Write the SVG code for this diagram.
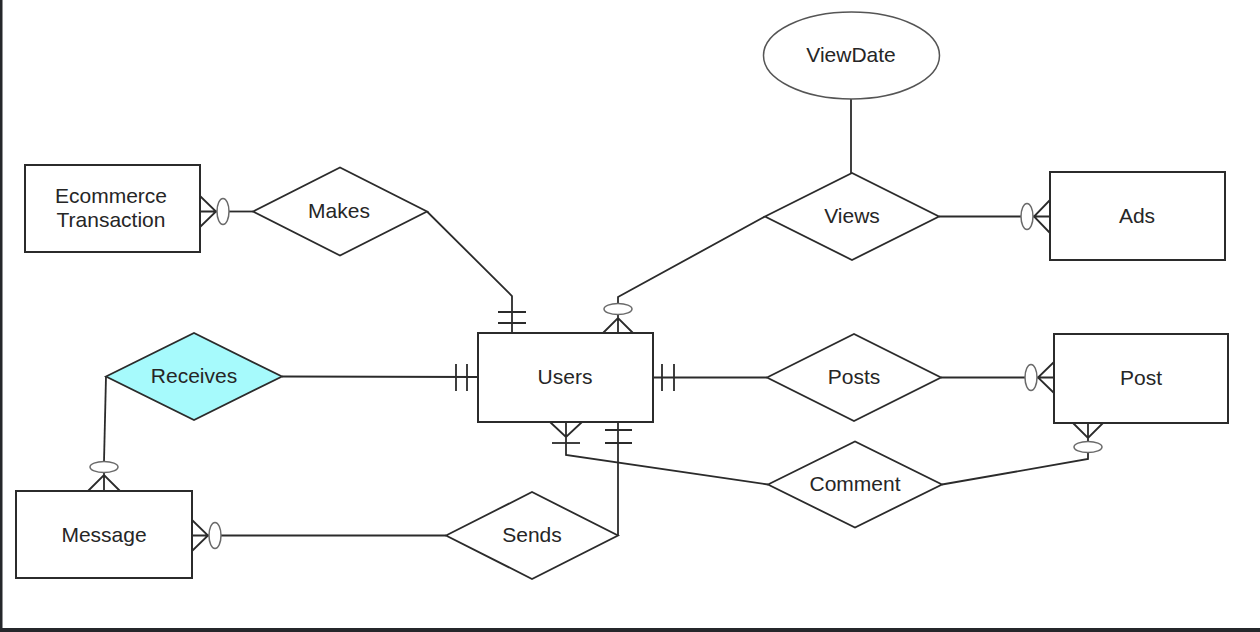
<svg xmlns="http://www.w3.org/2000/svg" width="1260" height="632" viewBox="0 0 1260 632">
<style>
.ent{fill:#fff;stroke:#2b2b2b;stroke-width:2}
.rel{fill:#fff;stroke:#2b2b2b;stroke-width:1.8}
.attr{fill:#fff;stroke:#555;stroke-width:1.5}
.ln{fill:none;stroke:#2b2b2b;stroke-width:1.8}
.opt{fill:#fff;stroke:#6a6a6a;stroke-width:1.5}
.t{font-family:"Liberation Sans",Arial,sans-serif;font-size:21px;fill:#262626;text-anchor:middle;dominant-baseline:central}
</style>
<rect x="0" y="0" width="1260" height="632" fill="#fff"/>
<rect x="0" y="0" width="2.5" height="632" fill="#25272b"/>
<rect x="0" y="628" width="1260" height="4" fill="#25272b"/>

<g id="connectors">
  <!-- Makes - Users -->
  <path class="ln" d="M427,211.5 L512,296 L512,333"/>
  <path class="ln" d="M498,312 L526,312 M498,323 L526,323"/>
  <!-- Makes - Ecommerce -->
  <path class="ln" d="M253,211.5 L229,211.5"/>
  <path class="ln" d="M200,196 L216,211.5 L200,227 M200,211.5 L217,211.5"/>
  <ellipse class="opt" cx="223" cy="211.5" rx="6" ry="13"/>
  <!-- Views - Users -->
  <path class="ln" d="M765,216.5 L618,297 L618,304"/>
  <path class="ln" d="M603,333 L618,318 L633,333 M618,314 L618,333"/>
  <ellipse class="opt" cx="618" cy="309" rx="14" ry="5.5"/>
  <!-- Views - Ads -->
  <path class="ln" d="M939,216.5 L1021,216.5"/>
  <path class="ln" d="M1050,200 L1034,216.5 L1050,233 M1033,216.5 L1050,216.5"/>
  <ellipse class="opt" cx="1027" cy="216.5" rx="6" ry="13"/>
  <!-- ViewDate - Views -->
  <path class="ln" d="M851,99 L851,173"/>
  <!-- Receives - Users -->
  <path class="ln" d="M282,376.5 L478,377"/>
  <path class="ln" d="M456,364 L456,391 M467,364 L467,391"/>
  <!-- Receives - Message -->
  <path class="ln" d="M106,376.5 L104,461.5"/>
  <path class="ln" d="M88,491 L104,475 L120,491 M104,472 L104,491"/>
  <ellipse class="opt" cx="104" cy="467" rx="14" ry="5.5"/>
  <!-- Users - Posts -->
  <path class="ln" d="M653,377.5 L767,377.5"/>
  <path class="ln" d="M662,364 L662,391 M674,364 L674,391"/>
  <!-- Posts - Post -->
  <path class="ln" d="M941,377.5 L1025,377.5"/>
  <path class="ln" d="M1054,362 L1038,377.5 L1054,393 M1037,377.5 L1054,377.5"/>
  <ellipse class="opt" cx="1031" cy="377.5" rx="6" ry="13"/>
  <!-- Users - Comment -->
  <path class="ln" d="M550,422 L566,437 L582,422 M566,422 L566,455 L768,484.5"/>
  <path class="ln" d="M552,443 L580,443"/>
  <!-- Comment - Post -->
  <path class="ln" d="M942,484.5 L1088,459 L1088,452.5"/>
  <path class="ln" d="M1073,423 L1088,438 L1103,423 M1088,423 L1088,441.5"/>
  <ellipse class="opt" cx="1088" cy="447" rx="14" ry="5.5"/>
  <!-- Users - Sends -->
  <path class="ln" d="M618,422 L618,535.5"/>
  <path class="ln" d="M605,430 L632,430 M605,443 L632,443"/>
  <!-- Sends - Message -->
  <path class="ln" d="M446,535.5 L221,535.5"/>
  <path class="ln" d="M192,520 L208,535.5 L192,551 M192,535.5 L209,535.5"/>
  <ellipse class="opt" cx="215" cy="535.5" rx="6" ry="13"/>
</g>

<g id="ecommerce">
  <rect class="ent" x="25" y="165" width="175" height="87"/>
  <text class="t" x="111" y="195">Ecommerce</text>
  <text class="t" x="111" y="219">Transaction</text>
</g>
<g id="makes">
  <polygon class="rel" points="253,211.5 340,167.5 427,211.5 340,255.5"/>
  <text class="t" x="339" y="210">Makes</text>
</g>
<g id="viewdate">
  <ellipse class="attr" cx="851.5" cy="55.5" rx="88" ry="43.5"/>
  <text class="t" x="851" y="54">ViewDate</text>
</g>
<g id="views">
  <polygon class="rel" points="765,216.5 852,173 939,216.5 852,260"/>
  <text class="t" x="852" y="215">Views</text>
</g>
<g id="ads">
  <rect class="ent" x="1050" y="172" width="175" height="88"/>
  <text class="t" x="1137" y="215">Ads</text>
</g>
<g id="receives">
  <polygon points="106,376.5 194,333 282,376.5 194,420" fill="#a6fafc" stroke="#2b2b2b" stroke-width="1.8"/>
  <text class="t" x="194" y="375">Receives</text>
</g>
<g id="users">
  <rect class="ent" x="478" y="333" width="175" height="89"/>
  <text class="t" x="565" y="376">Users</text>
</g>
<g id="posts">
  <polygon class="rel" points="767,377.5 854,334 941,377.5 854,421"/>
  <text class="t" x="854" y="376">Posts</text>
</g>
<g id="post">
  <rect class="ent" x="1054" y="334" width="174" height="89"/>
  <text class="t" x="1141" y="377">Post</text>
</g>
<g id="comment">
  <polygon class="rel" points="768,484.5 855,441.5 942,484.5 855,527.5"/>
  <text class="t" x="855" y="483">Comment</text>
</g>
<g id="message">
  <rect class="ent" x="16" y="491" width="176" height="87"/>
  <text class="t" x="104" y="534">Message</text>
</g>
<g id="sends">
  <polygon class="rel" points="446,535.5 532,492 618,535.5 532,579"/>
  <text class="t" x="532" y="534">Sends</text>
</g>
</svg>
